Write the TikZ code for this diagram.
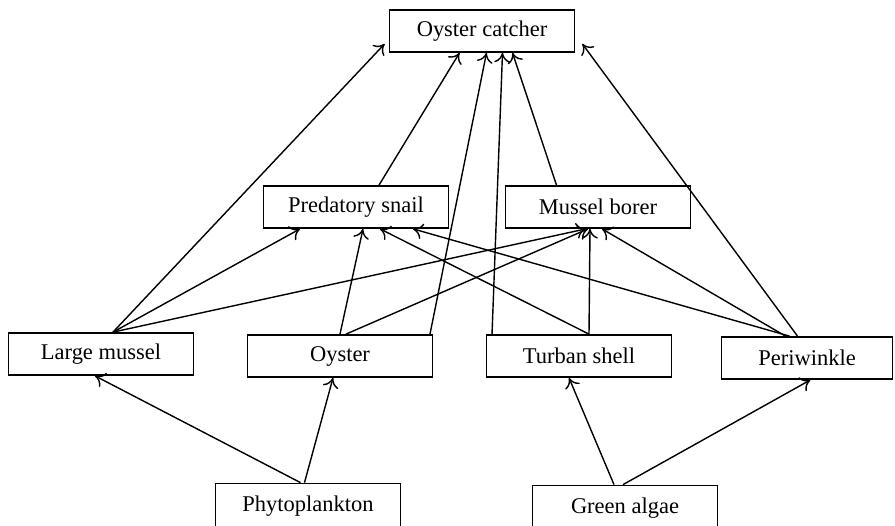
\documentclass[tikz,border=0pt]{standalone}
\usepackage{fontspec}
\setmainfont{Liberation Serif}
\usepackage{tikz}
\usetikzlibrary{arrows.meta}

\tikzset{
  species/.style={draw, line width=1pt, minimum width=3.7cm, minimum height=0.84cm,
    inner sep=0pt, font=\fontsize{12.8}{14}\selectfont},
  eats/.style={-{To[length=5.5pt,width=9pt]}, line width=0.8pt}
}

\begin{document}
\begin{tikzpicture}[x=0.02cm, y=-0.02cm]
\useasboundingbox (0,0) rectangle (895,526);

% Top predator
\node[species] (oc) at (482,31) {Oyster catcher};

% Second level
\node[species] (ps) at (356,207) {Predatory snail};
\node[species] (mb) at (598,207) {Mussel borer};

% Grazers and filter feeders
\node[species] (lm) at (101,354) {Large mussel};
\node[species] (oy) at (340,356) {Oyster};
\node[species] (ts) at (579,356) {Turban shell};
\node[species, minimum width=3.42cm] (pw) at (807,358) {Periwinkle};

% Producers
\node[species, minimum height=0.9cm] (ph) at (308,506) {Phytoplankton};
\node[species, minimum height=0.9cm] (ga) at (625,508) {Green algae};

% Into the oyster catcher
\draw[eats] ([xshift=2.4mm]lm.north) -- ([xshift=-0.8mm,yshift=1.8mm]oc.south west);
\draw[eats] ([xshift=4.6mm]ps.north) -- ([xshift=-4.5mm]oc.south);
\draw[eats] ([xshift=18mm]oy.north) -- ([xshift=0.9mm]oc.south);
\draw[eats] ([xshift=-17.4mm]ts.north) -- ([xshift=4.1mm]oc.south);
\draw[eats] ([xshift=-8.3mm]mb.north) -- ([xshift=6.1mm]oc.south);
\draw[eats] ([xshift=-1.9mm]pw.north) -- ([xshift=1.4mm,yshift=1.8mm]oc.south east);

% Into the predatory snail
\draw[eats] ([xshift=2.4mm]lm.north) -- ([xshift=-11.2mm]ps.south);
\draw[eats] (oy.north) -- ([xshift=1.4mm]ps.south);
\draw[eats] ([xshift=2mm]ts.north) -- ([xshift=4.8mm]ps.south);
\draw[eats] ([xshift=-3.5mm]pw.north) -- ([xshift=11.4mm]ps.south);

% Into the mussel borer
\draw[eats] ([xshift=2.4mm]lm.north) -- ([xshift=-2.4mm]mb.south);
\draw[eats] ([xshift=1.2mm]oy.north) -- ([xshift=-2mm]mb.south);
\draw[eats] ([xshift=2mm]ts.north) -- ([xshift=-1.6mm]mb.south);
\draw[eats] ([xshift=-4.3mm]pw.north) -- ([xshift=0.8mm]mb.south);

% From the producers
\draw[eats] ([xshift=-1.5mm]ph.north) -- ([xshift=-1.2mm]lm.south);
\draw[eats] ([xshift=-0.7mm]ph.north) -- ([xshift=-1.4mm]oy.south);
\draw[eats] ([xshift=-2.2mm]ga.north) -- ([xshift=-2mm]ts.south);
\draw[eats] ([xshift=-0.4mm]ga.north) -- ([xshift=0.7mm]pw.south);
\end{tikzpicture}
\end{document}
